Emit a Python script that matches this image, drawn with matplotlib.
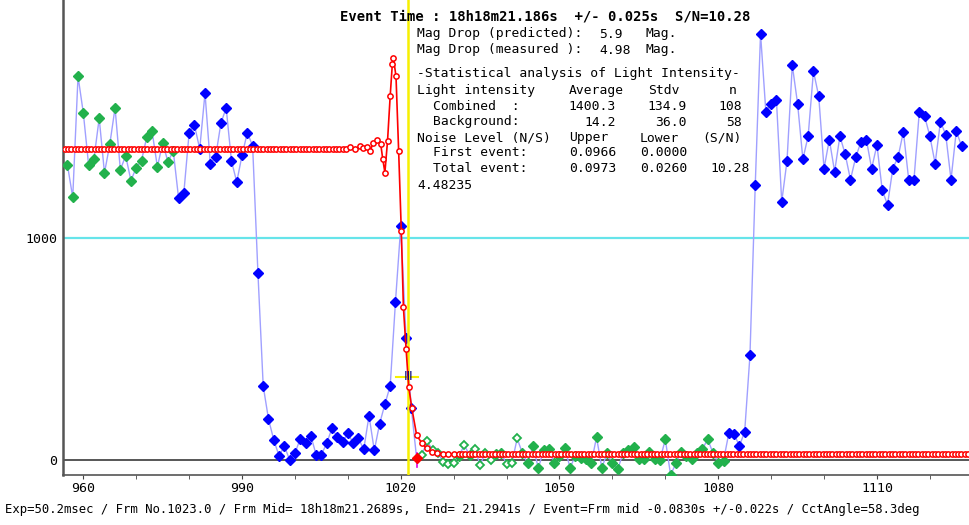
import numpy as np
import matplotlib.pyplot as plt

# light curve, one value per frame (957 .. 1126)
frames = np.arange(957, 1127)
left_part = [1327, 1181, 1726, 1561, 1327, 1353, 1537, 1291, 1420, 1584, 1305, 1369,
             1257, 1315, 1347, 1453, 1478, 1318, 1426, 1341, 1390, 1179, 1202, 1472,
             1507, 1399, 1650, 1333, 1363, 1514, 1584, 1345, 1250, 1371, 1472, 1413]
drop_part = [843, 333, 184, 90, 18, 63, 0, 30, 96, 78, 109, 24, 24, 75, 143, 103, 79,
             122, 75, 97, 48, 199, 43, 163, 251, 333, 712, 1052, 550, 232]
event_val = [7]
bottom_part = [24, 85, 45, 30, -7, -18, -15, 18, 67, 22, 48, -22, 33, 0, 27, 30, -18,
               -15, 97, 30, -15, 63, -37, 45, 48, -15, 18, 52, -34, 18, 8, 3, -15,
               102, -35, 30, -15, -42, 30, 45, 60, 3, 3, 37, 3, 0, 93, -67, -15, 36,
               18, 3, 30, 48, 93, 33, -12, -3]
rise_part = [120, 117, 63, 127, 471, 1238,
             1918, 1567, 1603, 1621, 1161, 1345, 1776, 1603, 1353, 1457, 1749, 1636,
             1311, 1441, 1297, 1457, 1375, 1261, 1363, 1432, 1441, 1311, 1417, 1214,
             1148, 1311, 1363, 1477, 1261, 1261, 1564, 1547, 1457, 1333, 1522, 1464,
             1261, 1480, 1411]
values = np.array(left_part + drop_part + event_val + bottom_part + rise_part)

green_left = (957, 977)
green_bottom = (1024, 1081)
event_frame = 1023
hollow_frames = [1024, 1025, 1026, 1027, 1028, 1029, 1030, 1032, 1034, 1035, 1036,
                 1037, 1040, 1041, 1042]

# model curve (red)
model_top = 1400.3
model_bottom = 25
fringe_x = [1010.4, 1011.4, 1012.3, 1012.9, 1013.6, 1014.2, 1014.8, 1015.6, 1016.2,
            1016.6, 1017.0, 1017.5, 1018.0, 1018.4, 1018.6, 1019.1, 1019.6, 1020.1,
            1020.5, 1021.0, 1021.5, 1022.1, 1023.0, 1024.0, 1024.9, 1025.9, 1026.8,
            1028.0, 1029.0, 1030.0, 1031.0]
fringe_y = [1408, 1400, 1411, 1402, 1407, 1390, 1427, 1438, 1423, 1353, 1293, 1435,
            1637, 1779, 1809, 1726, 1390, 1031, 687, 501, 329, 232, 112, 75, 52, 37,
            30, 28, 27, 26, 25]
pre_x = np.arange(956.5, 1010.0, 0.625)
post_x = np.arange(1031.6, 1127.5, 0.625)
model_x = np.concatenate([pre_x, fringe_x, post_x])
model_y = np.concatenate([np.full(len(pre_x), model_top), fringe_y,
                          np.full(len(post_x), model_bottom)])

event_line = 1021.32
cross_val = 375
xticks_major = [960, 990, 1020, 1050, 1080, 1110]

W, H = 969, 525
fig = plt.figure(figsize=(W / 100, H / 100), dpi=100)
ax = fig.add_axes([63 / W, 50 / H, 906 / W, 475 / H])
ax.set_xlim(956.16, 1127.4)
ax.set_ylim(-67.5, 2069)

ax.axhline(1000, color='#66E4EA', lw=1.6, zorder=1)
ax.axhline(0, color='#3a3a3a', lw=1.2, zorder=1)

# data points
ax.plot(frames, values, color='#a0a0ff', lw=1.0, zorder=2)
is_green = ((frames >= green_left[0]) & (frames <= green_left[1])) | \
           ((frames >= green_bottom[0]) & (frames <= green_bottom[1]))
is_hollow = np.isin(frames, hollow_frames)
is_event = frames == event_frame
is_blue = ~is_green & ~is_event

ax.plot(frames[is_blue], values[is_blue], 'D', ms=5, color='#0000ff', mec='#0000ff', ls='none', zorder=3)
ax.plot(frames[is_green & ~is_hollow], values[is_green & ~is_hollow], 'D', ms=5,
        color='#22b14c', mec='#22b14c', ls='none', zorder=3)
ax.plot(frames[is_hollow], values[is_hollow], 'D', ms=4.5, mfc='white', mec='#22b14c',
        mew=1.3, ls='none', zorder=3)

# event marks
ax.axvline(event_line, color='#f7f000', lw=1.8, zorder=4)
ax.plot([1019.1, 1023.3], [cross_val, cross_val], color='#f7f000', lw=1.5, zorder=4)
ax.plot([event_frame, event_frame], [-31, 31], color='#e000e0', lw=1.2, zorder=4)
ax.plot([1022.6, 1023.4], [5, 5], color='#a040e0', lw=1.0, zorder=4)
ax.plot(frames[is_event], values[is_event], 'D', ms=5, color='#ff0000', ls='none', zorder=6)
ax.text(1021.3, cross_val, 'Ⅲ', color='#000080', fontsize=9, ha='center', va='center',
        family=['DejaVu Sans'], zorder=6)

# model
ax.plot(model_x, model_y, '-o', color='#ff0000', lw=1.2, ms=3.8, mfc='white',
        mec='#ff0000', mew=1.1, zorder=5)

for s in ['top', 'right']:
    ax.spines[s].set_visible(False)
ax.spines['left'].set_color('#555555')
ax.spines['left'].set_linewidth(1.8)
ax.spines['bottom'].set_color('#555555')
ax.spines['bottom'].set_linewidth(1.2)

ax.set_xticks(xticks_major)
ax.set_xticks(np.arange(960, 1127, 10), minor=True)
ax.tick_params(axis='x', which='both', direction='out', length=3, color='#444444', pad=2,
               labelsize=9.5)
ax.set_yticks([0, 1000])
ax.tick_params(axis='y', length=0, pad=4, labelsize=9.5)
for lab in ax.get_xticklabels() + ax.get_yticklabels():
    lab.set_family('DejaVu Sans Mono')

mono = 'DejaVu Sans Mono'


def put(x, y, s, ha='left', **kw):
    fig.text(x / W, 1 - y / H, s, ha=ha, va='center', family=mono, **kw)


put(340, 17, "Event Time : 18h18m21.186s  +/- 0.025s  S/N=10.28", fontsize=10, fontweight='bold')

box = [
    (417, 34, "Mag Drop (predicted):", 'left'), (599, 34, "5.9", 'left'), (646, 34, "Mag.", 'left'),
    (417, 50, "Mag Drop (measured ):", 'left'), (599, 50, "4.98", 'left'), (646, 50, "Mag.", 'left'),
    (417, 73, "-Statistical analysis of Light Intensity-", 'left'),
    (417, 90, "Light intensity", 'left'), (569, 90, "Average", 'left'), (648, 90, "Stdv", 'left'),
    (729, 90, "n", 'left'),
    (433, 106, "Combined  :", 'left'), (616, 106, "1400.3", 'right'), (687, 106, "134.9", 'right'),
    (742, 106, "108", 'right'),
    (433, 122, "Background:", 'left'), (616, 122, "14.2", 'right'), (687, 122, "36.0", 'right'),
    (742, 122, "58", 'right'),
    (417, 138, "Noise Level (N/S)", 'left'), (569, 138, "Upper", 'left'), (640, 138, "Lower", 'left'),
    (742, 138, "(S/N)", 'right'),
    (433, 153, "First event:", 'left'), (569, 153, "0.0966", 'left'), (640, 153, "0.0000", 'left'),
    (433, 169, "Total event:", 'left'), (569, 169, "0.0973", 'left'), (640, 169, "0.0260", 'left'),
    (750, 169, "10.28", 'right'),
    (417, 185, "4.48235", 'left'),
]
for x, y, s, ha in box:
    put(x, y, s, ha=ha, fontsize=9.4)

put(5, 510, "Exp=50.2msec / Frm No.1023.0 / Frm Mid= 18h18m21.2689s,  End= 21.2941s / "
            "Event=Frm mid -0.0830s +/-0.022s / CctAngle=58.3deg", fontsize=8.8)

fig.savefig('out.png', dpi=100)
